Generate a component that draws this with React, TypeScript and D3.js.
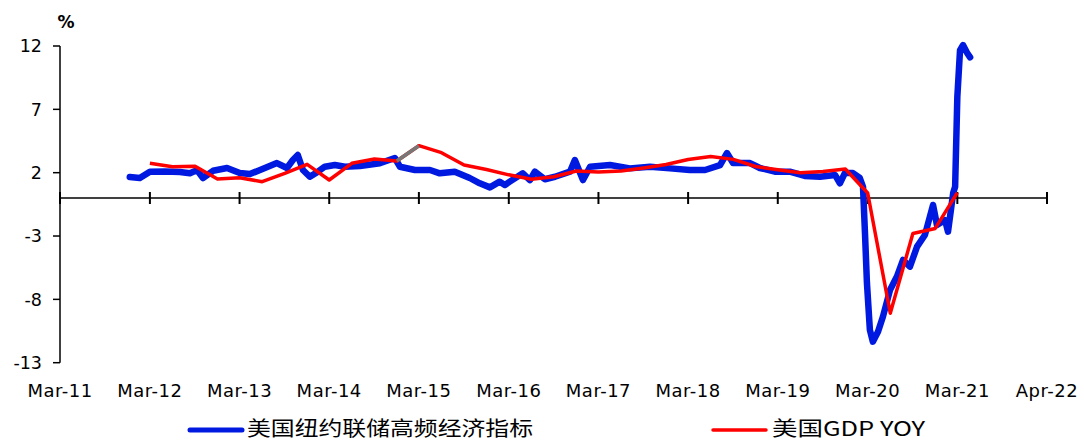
import { useEffect, useRef } from "react";
import * as d3 from "d3";

// 美国纽约联储高频经济指标 (weekly)
const weiDates = [
  "2011-12-10", "2012-01-20", "2012-03-01", "2012-05-01", "2012-07-01", "2012-08-11",
  "2012-09-09", "2012-10-03", "2012-11-13", "2013-01-09", "2013-03-02", "2013-04-12",
  "2013-06-12", "2013-07-31", "2013-09-10", "2013-10-04", "2013-10-24", "2013-11-14",
  "2013-12-12", "2014-01-14", "2014-02-11", "2014-03-24", "2014-05-04", "2014-07-04",
  "2014-09-23", "2014-11-23", "2014-12-14", "2015-02-13", "2015-04-15", "2015-05-25",
  "2015-07-25", "2015-09-24", "2015-11-04", "2015-12-15", "2016-01-24", "2016-02-14",
  "2016-03-05", "2016-04-27", "2016-05-26", "2016-06-15", "2016-07-26", "2016-09-05",
  "2016-11-05", "2016-11-25", "2016-12-28", "2017-01-26", "2017-04-17", "2017-07-07",
  "2017-09-27", "2017-12-17", "2018-03-08", "2018-05-09", "2018-07-09", "2018-08-06",
  "2018-08-31", "2018-11-08", "2018-12-18", "2019-02-17", "2019-04-19", "2019-06-19",
  "2019-08-20", "2019-10-20", "2019-11-09", "2019-11-29", "2020-01-01", "2020-01-29",
  "2020-02-11", "2020-02-19", "2020-02-27", "2020-03-10", "2020-03-22", "2020-04-12",
  "2020-05-02", "2020-05-31", "2020-06-28", "2020-07-23", "2020-08-20", "2020-09-18",
  "2020-10-20", "2020-11-22", "2020-12-08", "2021-01-10", "2021-01-22", "2021-02-12",
  "2021-02-20", "2021-03-01", "2021-03-12", "2021-03-24", "2021-04-10", "2021-04-22",
];
const weiValues = [
  1.66, 1.58, 2.08, 2.1, 2.05, 1.95,
  2.2, 1.58, 2.15, 2.37, 1.97, 1.89,
  2.37, 2.76, 2.37, 3.0, 3.39, 2.21,
  1.68, 2.08, 2.47, 2.6, 2.47, 2.53,
  2.74, 3.16, 2.47, 2.21, 2.21, 1.95,
  2.08, 1.58, 1.16, 0.84, 1.29, 1.03,
  1.29, 1.95, 1.42, 2.08, 1.48, 1.68,
  2.08, 3.0, 1.42, 2.47, 2.6, 2.34,
  2.47, 2.34, 2.21, 2.21, 2.6, 3.55,
  2.76, 2.76, 2.37, 2.08, 2.08, 1.74,
  1.68, 1.82, 1.16, 1.97, 1.97, 1.58,
  0.89, -2.76, -6.71, -10.42, -11.34, -10.55,
  -9.37, -7.26, -6.2, -4.89, -5.42, -3.84,
  -2.92, -0.55, -2.13, -1.74, -2.66, 0.39,
  0.89, 8.0, 11.68, 12.07, 11.45, 11.1,
];

// 美国GDP YOY (quarterly)
const gdpQuarters = [
  "2012-03-01", "2012-06-01", "2012-09-01", "2012-12-01",
  "2013-03-01", "2013-06-01", "2013-09-01", "2013-12-01",
  "2014-03-01", "2014-06-01", "2014-09-01", "2014-12-01",
  "2015-03-01", "2015-06-01", "2015-09-01", "2015-12-01",
  "2016-03-01", "2016-06-01", "2016-09-01", "2016-12-01",
  "2017-03-01", "2017-06-01", "2017-09-01", "2017-12-01",
  "2018-03-01", "2018-06-01", "2018-09-01", "2018-12-01",
  "2019-03-01", "2019-06-01", "2019-09-01", "2019-12-01",
  "2020-03-01", "2020-06-01", "2020-09-01", "2020-12-01",
  "2021-03-01",
];
const gdpValues = [
  2.74, 2.47, 2.5, 1.5,
  1.6, 1.29, 1.95, 2.66,
  1.42, 2.74, 3.08, 2.92,
  4.13, 3.58, 2.6, 2.25,
  1.83, 1.48, 1.68, 2.13,
  2.05, 2.13, 2.37, 2.64,
  3.04, 3.28, 3.05, 2.49,
  2.23, 2.0, 2.1, 2.29,
  0.4, -9.1, -2.8, -2.4,
  0.42,
];
// segment drawn in grey in the source (Q4-14 -> Q1-15)
const greySegment = ["2014-12-01", "2015-03-01"];

const yTicks = [12, 7, 2, -3, -8, -13];
const xTickLabels = [
  "Mar-11", "Mar-12", "Mar-13", "Mar-14", "Mar-15", "Mar-16",
  "Mar-17", "Mar-18", "Mar-19", "Mar-20", "Mar-21", "Apr-22",
];

const seriesNames = ["美国纽约联储高频经济指标", "美国GDP YOY"];

interface Pt {
  date: Date;
  value: number;
}

export default function App() {
  const ref = useRef<SVGSVGElement | null>(null);

  useEffect(() => {
    document.body.style.margin = "0";
    const width = 1084;
    const height = 441;
    const svg = d3.select(ref.current);
    svg.selectAll("*").remove();
    svg.attr("width", width).attr("height", height);

    const parse = d3.timeParse("%Y-%m-%d");
    const tickDates = xTickLabels.map((_, i) => new Date(2011 + i, 2, 1));

    const x = d3
      .scaleTime()
      .domain([tickDates[0], tickDates[tickDates.length - 1]])
      .range([60, 1047]);
    const y = d3.scaleLinear().domain([-13, 12]).range([362.7, 46]);

    const font = "'DejaVu Sans', sans-serif";

    const wei: Pt[] = weiDates.map((d, i) => ({ date: parse(d)!, value: weiValues[i] }));
    const gdp: Pt[] = gdpQuarters.map((d, i) => ({ date: parse(d)!, value: gdpValues[i] }));

    // y axis
    svg
      .append("line")
      .attr("x1", x(tickDates[0]))
      .attr("x2", x(tickDates[0]))
      .attr("y1", y(12))
      .attr("y2", y(-13))
      .attr("stroke", "#000")
      .attr("stroke-width", 1.5);

    const yg = svg.append("g");
    yTicks.forEach((t) => {
      yg.append("line")
        .attr("x1", 53)
        .attr("x2", 60)
        .attr("y1", y(t))
        .attr("y2", y(t))
        .attr("stroke", "#000")
        .attr("stroke-width", 1.5);
      yg.append("text")
        .attr("x", 42)
        .attr("y", y(t))
        .attr("dy", "0.36em")
        .attr("text-anchor", "end")
        .attr("font-family", font)
        .attr("font-size", 17.5)
        .attr("fill", "#000")
        .text(t);
    });

    svg
      .append("text")
      .attr("x", 66)
      .attr("y", 28)
      .attr("text-anchor", "middle")
      .attr("font-family", font)
      .attr("font-size", 17)
      .attr("font-weight", "bold")
      .text("%");

    // x axis at zero
    svg
      .append("line")
      .attr("x1", x.range()[0])
      .attr("x2", x.range()[1])
      .attr("y1", y(0))
      .attr("y2", y(0))
      .attr("stroke", "#000")
      .attr("stroke-width", 1.5);

    tickDates.forEach((d, i) => {
      svg
        .append("line")
        .attr("x1", x(d))
        .attr("x2", x(d))
        .attr("y1", y(0) - 6)
        .attr("y2", y(0) + 6)
        .attr("stroke", "#000")
        .attr("stroke-width", 2);
      svg
        .append("text")
        .attr("x", x(d))
        .attr("y", 397)
        .attr("text-anchor", "middle")
        .attr("font-family", font)
        .attr("font-size", 18)
        .attr("letter-spacing", 0.5)
        .attr("fill", "#000")
        .text(xTickLabels[i]);
    });

    const line = d3
      .line<Pt>()
      .x((d) => x(d.date))
      .y((d) => y(d.value));

    svg
      .append("path")
      .datum(wei)
      .attr("d", line)
      .attr("fill", "none")
      .attr("stroke", "#0019E0")
      .attr("stroke-width", 6.5)
      .attr("stroke-linejoin", "round")
      .attr("stroke-linecap", "round");

    svg
      .append("path")
      .datum(gdp)
      .attr("d", line)
      .attr("fill", "none")
      .attr("stroke", "#FF0000")
      .attr("stroke-width", 3.5)
      .attr("stroke-linejoin", "round");

    const grey = gdp.filter(
      (p) => greySegment.includes(d3.timeFormat("%Y-%m-%d")(p.date))
    );
    svg
      .append("path")
      .datum(grey)
      .attr("d", line)
      .attr("fill", "none")
      .attr("stroke", "#777777")
      .attr("stroke-width", 3.5);

    // legend
    const legend = [
      { name: seriesNames[0], color: "#0019E0", x0: 190, x1: 242, tx: 247, tl: 286, sw: 5 },
      { name: seriesNames[1], color: "#FF0000", x0: 713, x1: 766, tx: 772, tl: 153, sw: 3.5 },
    ];
    legend.forEach((l) => {
      svg
        .append("line")
        .attr("x1", l.x0)
        .attr("x2", l.x1)
        .attr("y1", 430)
        .attr("y2", 430)
        .attr("stroke", l.color)
        .attr("stroke-width", l.sw)
        .attr("stroke-linecap", "round");
      svg
        .append("text")
        .attr("x", l.tx)
        .attr("y", 436)
        .attr("font-family", "'Noto Sans CJK SC', sans-serif")
        .attr("font-size", 20)
        .attr("textLength", l.tl)
        .attr("lengthAdjust", "spacingAndGlyphs")
        .attr("fill", "#000")
        .text(l.name);
    });
  }, []);

  return <svg ref={ref} style={{ display: "block" }}></svg>;
}
